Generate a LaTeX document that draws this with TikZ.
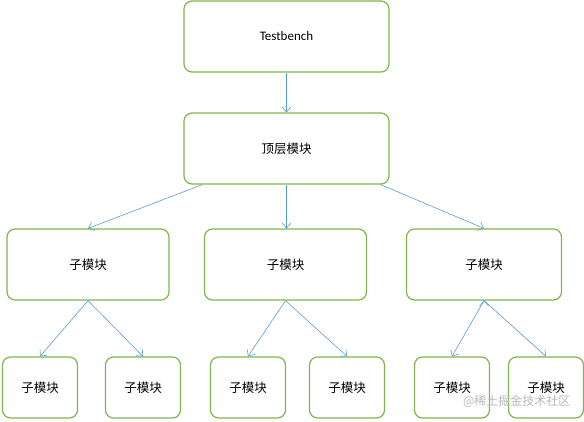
\documentclass[tikz,border=0pt]{standalone}
\usepackage{fontspec}
\setmainfont{Carlito}
\newfontfamily\cjk{Noto Sans CJK SC}
\usetikzlibrary{arrows.meta}
\definecolor{boxgreen}{RGB}{128,182,78}
\definecolor{linkblue}{RGB}{91,155,213}

\begin{document}
\begin{tikzpicture}[x=1pt, y=-1pt, >={Straight Barb[length=5pt, width=9pt]},
    box/.style={draw=boxgreen, line width=1.2pt, rounded corners=8pt, fill=white, font=\cjk\fontsize{12.5}{14}\selectfont},
    big/.style={box, minimum width=162pt, minimum height=71pt},
    small/.style={box, minimum width=75pt, minimum height=61pt},
    link/.style={->, draw=linkblue, line width=0.6pt}]
    \useasboundingbox (0, 0) rectangle (584, 421);
    \node[big, minimum width=205pt, font=\fontsize{13}{15}\selectfont] (tb) at (286.5, 36.5) {Testbench};
    \node[big, minimum width=205pt] (top) at (286.5, 148.5) {顶层模块};
    \node[big] (l) at (88, 264.5) {子模块};
    \node[big] (m) at (285.5, 264.5) {子模块};
    \node[big, minimum width=155pt] (r) at (484, 264.5) {子模块};
    \node[small] (ll) at (40, 387.5) {子模块};
    \node[small] (lr) at (143, 387.5) {子模块};
    \node[small] (ml) at (248, 387.5) {子模块};
    \node[small] (mr) at (347, 387.5) {子模块};
    \node[small] (rl) at (452, 387.5) {子模块};
    \node[small] (rr) at (546, 387.5) {子模块};
    \path[link] (tb) edge (top)
                (top.south) edge (top.south |- m.north)
                ([xshift=19pt]top.south west) edge (l.north)
                ([xshift=-9pt]top.south east) edge (r.north)
                (l.south) edge (ll.north)
                (l.south) edge (lr.north)
                (m.south) edge (ml.north)
                (m.south) edge (mr.north)
                (r.south) edge (rl.north)
                (r.south) edge (rr.north);
    \node[text=gray!55, font=\cjk\fontsize{12}{14}\selectfont, anchor=east] (wm) at (574, 401) {@稀土掘金技术社区};
\end{tikzpicture}
\end{document}
